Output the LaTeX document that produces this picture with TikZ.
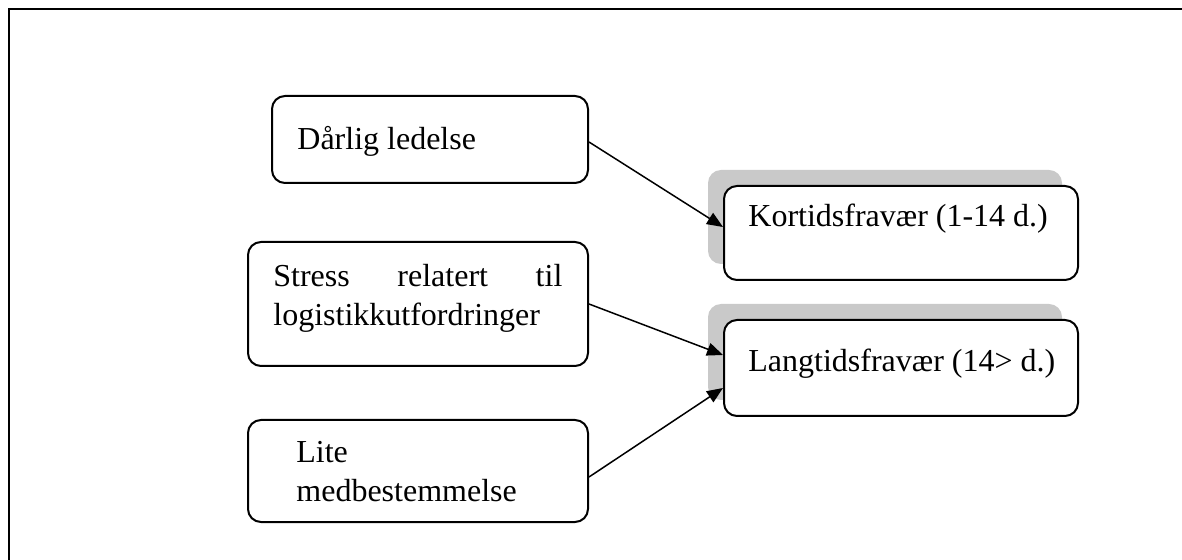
\documentclass[tikz,border=0pt]{standalone}
\usepackage{fontspec}
\setmainfont{Liberation Serif}
\usetikzlibrary{arrows.meta,shadows}
\tikzset{
  boks/.style={draw,line width=1pt,rounded corners=6.5pt,fill=white,inner sep=0pt},
  skygge/.style={drop shadow={shadow xshift=-8pt,shadow yshift=8pt,fill=black!21,opacity=1}},
}

\begin{document}
\begin{tikzpicture}[x=1pt,y=-1pt,font=\fontsize{16}{19.5}\selectfont,
   txt/.style={anchor=base west,inner sep=0pt},
   pil/.style={-{Triangle[length=8pt,width=6.5pt]},line width=0.75pt}]
  \useasboundingbox (0,0) rectangle (591,280);
  \draw[line width=1pt] (4.25,281) -- (4.25,4.75) -- (592,4.75);
  % aarsaker
  \node[boks,minimum width=158pt,minimum height=43.5pt] (dl) at (215,69.75) {};
  \node[boks,minimum width=170pt,minimum height=62pt] (st) at (209,152) {};
  \node[boks,minimum width=170pt,minimum height=51pt] (lm) at (209,235.5) {};
  % fravaer
  \node[boks,skygge,minimum width=177pt,minimum height=47pt] (kf) at (450.5,116.5) {};
  \node[boks,skygge,minimum width=177pt,minimum height=48pt] (lf) at (450.5,184) {};
  \node[txt] (dlt) at (148.5,75) {Dårlig ledelse};
  \node[txt] (stt) at (136.5,143.5) {\parbox[t]{144.5pt}{Stress\hfill relatert\hfill til\\logistikkutfordringer}};
  \node[txt] (lmt) at (148,231.5) {\parbox[t]{140pt}{Lite\\medbestemmelse}};
  \node[txt] (kft) at (374,113.3) {Kortidsfravær (1-14 d.)};
  \node[txt] (lft) at (374,185.8) {Langtidsfravær (14> d.)};
  \draw[pil] ([yshift=-1.25pt]dl.east) -- ([yshift=3pt]kf.west);
  \draw[pil] (st.east) -- ([yshift=6.5pt]lf.west);
  \draw[pil] ([yshift=-3pt]lm.east) -- ([yshift=-10pt]lf.west);
\end{tikzpicture}
\end{document}
